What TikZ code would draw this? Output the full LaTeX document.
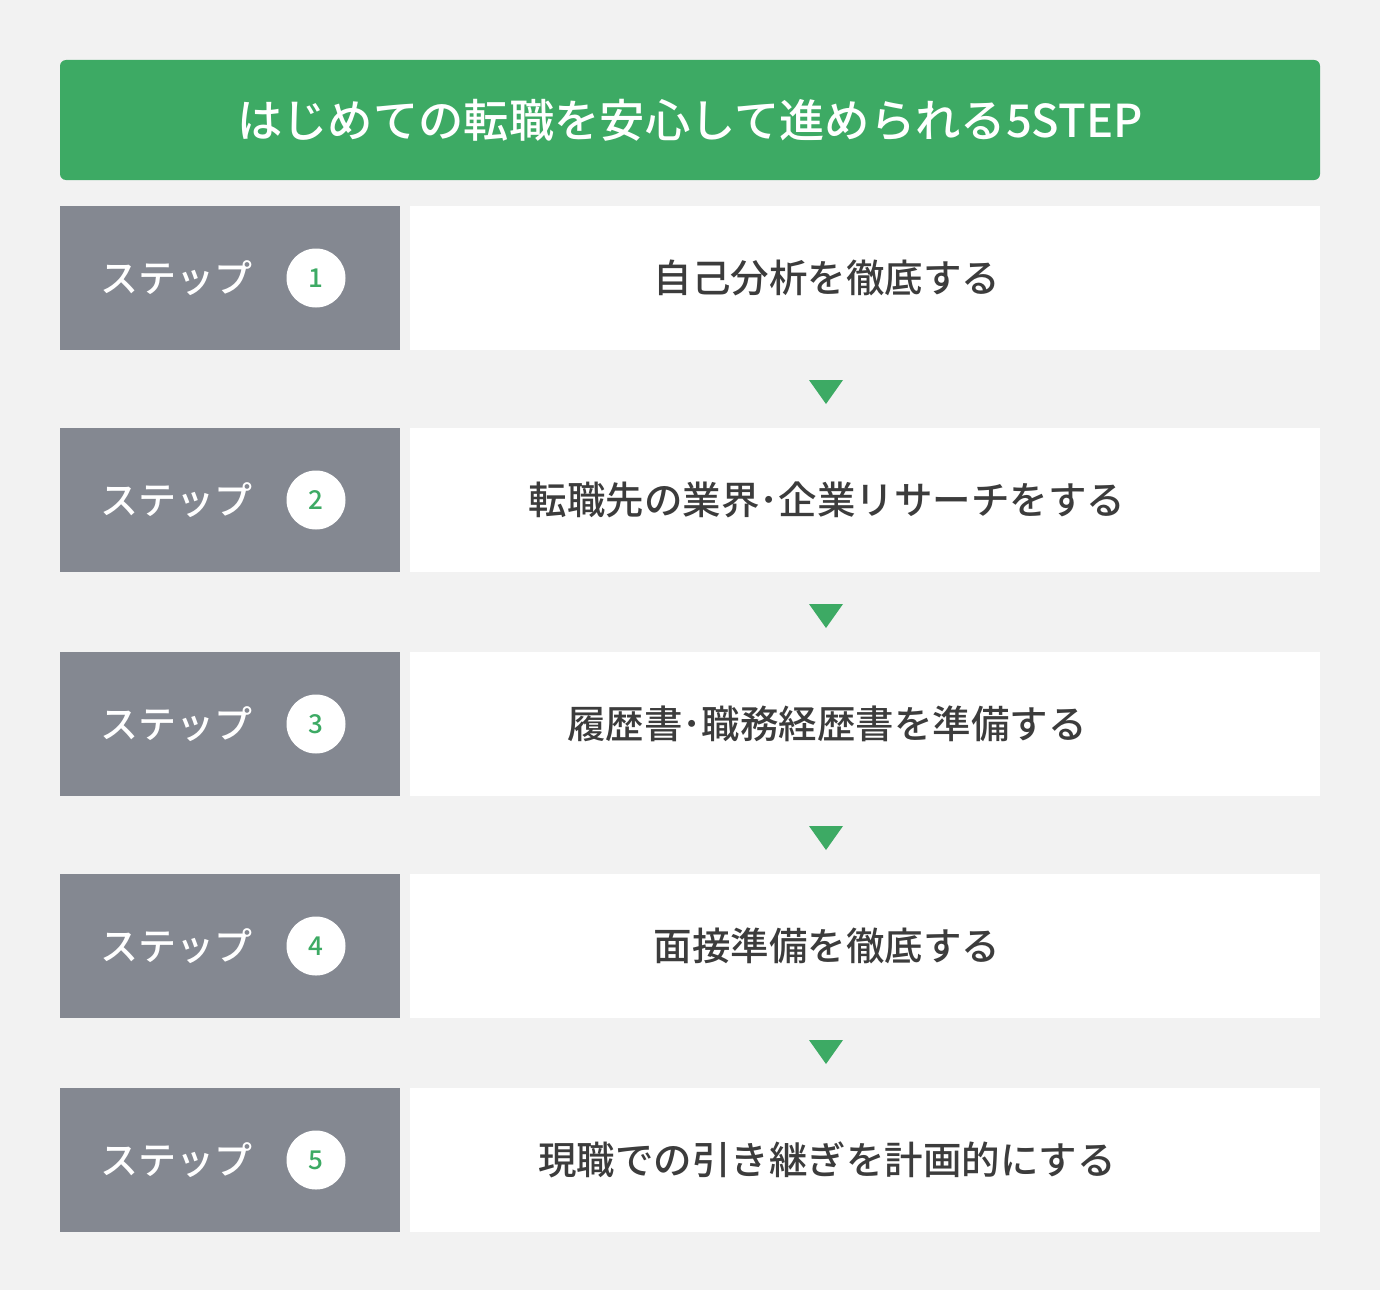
\documentclass[tikz,border=0pt]{standalone}
\usepackage{fontspec}
\setmainfont{Noto Sans CJK JP}
\newfontfamily\jpbold{Noto Sans CJK JP Bold}
\newfontfamily\jpmed{Noto Sans CJK JP Medium}
\definecolor{bggray}{HTML}{F2F2F2}
\definecolor{hdgreen}{HTML}{3DAA64}
\definecolor{stepgray}{HTML}{848891}
\definecolor{txtdark}{HTML}{3C3C3C}
\newcommand{\hdot}{･}
\tikzset{
  titlebox/.style={fill=hdgreen, rounded corners=6pt, minimum width=1260pt, minimum height=120pt, inner sep=0pt, text=white, font=\jpmed\fontsize{45.3}{50}\selectfont},
  labelbox/.style={fill=stepgray, minimum width=340pt, minimum height=144pt, inner sep=0pt},
  contentbox/.style={fill=white, minimum width=910pt, minimum height=144pt, inner sep=0pt},
  steptext/.style={text=white, font=\jpmed\fontsize{38}{44}\selectfont, inner sep=0pt},
  numcircle/.style={circle, fill=white, minimum size=59pt, inner sep=0pt, text=hdgreen, font=\jpmed\fontsize{26}{30}\selectfont},
  contenttext/.style={text=txtdark, font=\jpmed\fontsize{38.5}{44}\selectfont, inner sep=0pt},
  downtri/.style={fill=hdgreen}
}
\begin{document}
\begin{tikzpicture}[x=1pt,y=-1pt]
\fill[bggray] (0,0) rectangle (1380,1290);
\useasboundingbox (0,0) rectangle (1380,1290);
\node[titlebox] (title) at (690,120) {はじめての転職を安心して進められる5STEP};
\foreach \i/\yc/\txt in {1/278/自己分析を徹底する, 2/500/転職先の業界\hdot 企業リサーチをする, 3/724/履歴書\hdot 職務経歴書を準備する, 4/946/面接準備を徹底する, 5/1160/現職での引き継ぎを計画的にする}{
  \node[labelbox] (lab\i) at (230,\yc) {};
  \node[contentbox] (box\i) at (865,\yc) {};
  \node[steptext] (st\i) at (176,\yc) {ステップ};
  \node[numcircle] (num\i) at (316,\yc) {\i};
  \node[contenttext] (txt\i) at (827,\yc) {\txt};
}
\foreach \i/\yt in {1/380, 2/604, 3/826, 4/1040}{
  \coordinate (tri\i) at (826,\yt);
  \fill[downtri] ([xshift=-17pt]tri\i) -- ([xshift=17pt]tri\i) -- ([yshift=-24pt]tri\i) -- cycle;
}
\end{tikzpicture}
\end{document}
